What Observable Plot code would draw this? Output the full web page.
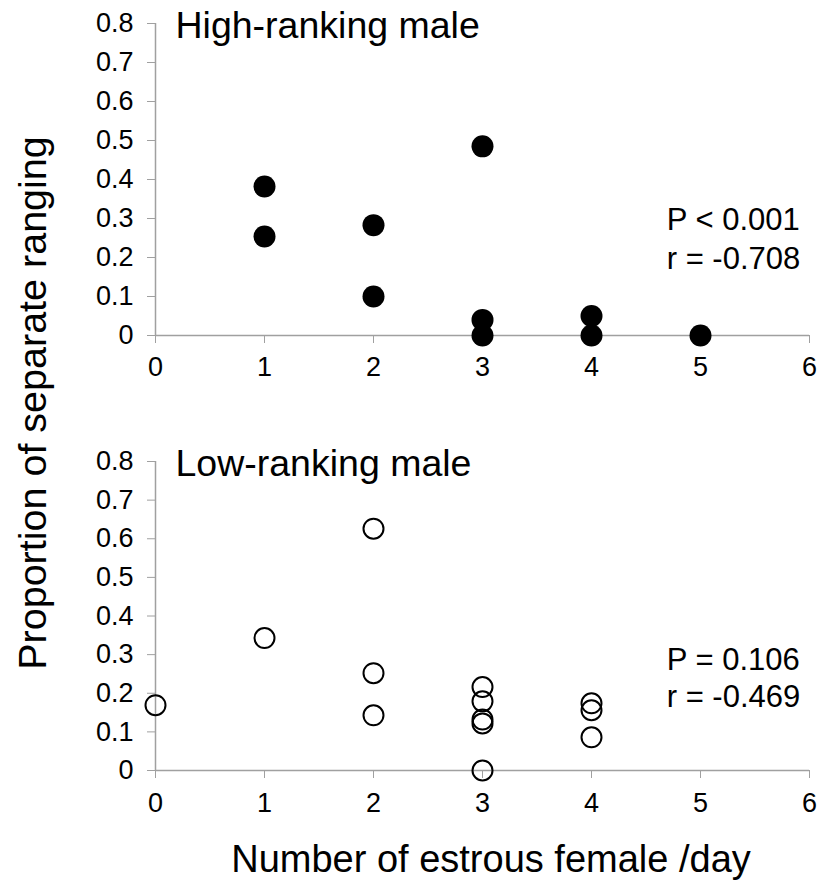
<!DOCTYPE html>
<html>
<head>
<meta charset="utf-8">
<script src="https://cdn.jsdelivr.net/npm/d3@7"></script>
<script src="https://cdn.jsdelivr.net/npm/@observablehq/plot@0.6"></script>
<style>
  html, body { margin: 0; padding: 0; background: #fff; }
  #chart { position: relative; width: 817px; height: 884px; font-family: "Liberation Sans", Arial, sans-serif; color: #000; }
  #chart svg { position: absolute; left: 0; overflow: visible; }
  #chart svg [aria-label*="axis"] line, #chart svg [aria-label*="axis"] path { stroke: #a0a0a0; }
  #chart svg [aria-label*="axis"] text { font-size: 27px !important; }
  .ylab { position: absolute; left: 33px; top: 403px; transform: translate(-50%, -50%) rotate(-90deg); white-space: nowrap; font-size: 39.5px; line-height: 1; }
  .xlab { position: absolute; left: 491px; top: 840px; transform: translateX(-50%); white-space: nowrap; font-size: 38px; line-height: 1; }
</style>
</head>
<body>
<div id="chart">
  <div class="ylab">Proportion of separate ranging</div>
  <div class="xlab">Number of estrous female /day</div>
</div>
<script>
// ---- data ----
const xTicks = [0, 1, 2, 3, 4, 5, 6];
const yTicks = [0, 0.1, 0.2, 0.3, 0.4, 0.5, 0.6, 0.7, 0.8];

const highTitle = "High-ranking male";
const highX = [1, 1, 2, 2, 3, 3, 3, 4, 4, 5];
const highY = [0.382, 0.254, 0.283, 0.100, 0.485, 0.040, 0, 0.050, 0, 0];
const highStats = ["P < 0.001", "r = -0.708"];

const lowTitle = "Low-ranking male";
const lowX = [0, 1, 2, 2, 2, 3, 3, 3, 3, 3, 4, 4, 4];
const lowY = [0.169, 0.343, 0.626, 0.252, 0.143, 0.216, 0.179, 0.132, 0.122, 0, 0.174, 0.156, 0.086];
const lowStats = ["P = 0.106", "r = -0.469"];

const axisGray = "#a0a0a0";
const fontFamily = '"Liberation Sans", Arial, sans-serif';

function panel({xs, ys, filled, title, stats, statY, height, marginTop, marginBottom, xPad}) {
  const data = xs.map((x, i) => ({x, y: ys[i]}));
  return Plot.plot({
    width: 817,
    height,
    marginTop,
    marginBottom,
    marginLeft: 155,
    marginRight: 8,
    style: {fontFamily, fontSize: "27px", color: "#000", background: "transparent"},
    x: {domain: [0, 6]},
    y: {domain: [0, 0.8]},
    marks: [
      Plot.axisX({ticks: xTicks, tickSize: 8, tickPadding: xPad, stroke: axisGray, fill: "#000", fontSize: 27, tickFormat: d => String(d), label: null}),
      Plot.axisY({ticks: yTicks, tickSize: 8, tickPadding: 14, stroke: axisGray, fill: "#000", fontSize: 27, tickFormat: d => d === 0 ? "0" : d.toFixed(1), label: null}),
      Plot.ruleX([0], {stroke: axisGray, strokeWidth: 1.5}),
      Plot.ruleY([0], {stroke: axisGray, strokeWidth: 1.5}),
      filled
        ? Plot.dot(data, {x: "x", y: "y", r: 11, fill: "#000", stroke: "none"})
        : Plot.dot(data, {x: "x", y: "y", r: 10, fill: "none", stroke: "#000", strokeWidth: 2}),
      Plot.text([title], {frameAnchor: "top-left", dx: 20, dy: 2.5, textAnchor: "start", lineAnchor: "middle", fontSize: 37.5, fill: "#000"}),
      Plot.text([stats[0]], {x: 4.69, y: statY[0], textAnchor: "start", lineAnchor: "middle", fontSize: 31, fill: "#000"}),
      Plot.text([stats[1]], {x: 4.69, y: statY[1], textAnchor: "start", lineAnchor: "middle", fontSize: 31, fill: "#000"})
    ]
  });
}

const chartEl = document.getElementById("chart");

const topPanel = panel({xs: highX, ys: highY, filled: true, title: highTitle, stats: highStats, statY: [0.297, 0.197], height: 380, marginTop: 23, marginBottom: 45, xPad: 13});
topPanel.style.top = "0px";
chartEl.appendChild(topPanel);

const bottomPanel = panel({xs: lowX, ys: lowY, filled: false, title: lowTitle, stats: lowStats, statY: [0.285, 0.189], height: 380, marginTop: 21, marginBottom: 50, xPad: 14});
bottomPanel.style.top = "440px";
chartEl.appendChild(bottomPanel);
</script>
</body>
</html>
